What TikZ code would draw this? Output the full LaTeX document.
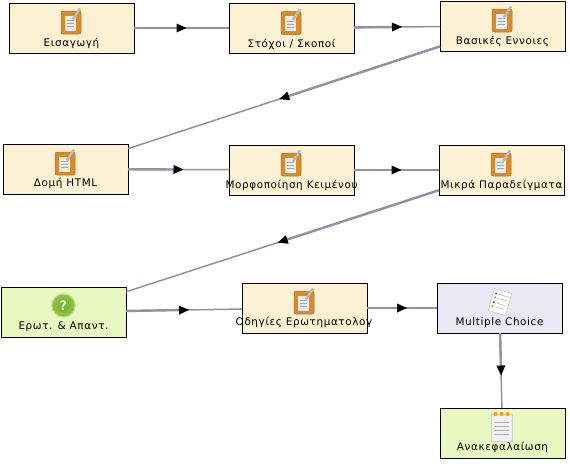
\documentclass[tikz,border=0pt]{standalone}
\usepackage{fontspec}
\setmainfont{DejaVu Sans}[LetterSpace=6]
\usetikzlibrary{arrows.meta,decorations.markings}
\definecolor{creamfill}{HTML}{FDF1D4}
\definecolor{limefill}{HTML}{E8F8C0}
\definecolor{lavenderfill}{HTML}{E9E9F6}
\definecolor{flowgray}{HTML}{9090A8}
\definecolor{padorange}{HTML}{D98A2B}
\definecolor{ballgreen}{HTML}{8CC63F}
\definecolor{balllight}{HTML}{C8E49A}

\tikzset{
    stepbox/.style={draw=black, line width=1pt, minimum width=125pt, minimum height=50pt, inner sep=0pt, outer sep=0pt},
    caption/.style={font=\fontsize{10.4}{12}\selectfont, inner sep=0pt, text=black},
    flow/.style={draw=flowgray, line width=1.5pt, postaction={decorate}, decoration={markings,
        mark=at position 0.5 with {
            \draw[flowgray, line width=2.4pt] (0,0) -- (-0.5*\pgfdecoratedpathlength,0);
            \fill[black] (5,0) -- (-5,4.5) -- (-5,-4.5) -- cycle;
        }}},
    pics/notepad/.style={code={
        \draw[padorange!80!black, fill=padorange, rounded corners=2pt, line width=0.5pt] (-10,-11.5) rectangle (10,11.5);
        \fill[white!92!black] (-6,-7) rectangle (5,8);
        \foreach \y in {-2,1,4} { \draw[gray!70, line width=0.4pt] (-4,\y) -- (3,\y); }
        \draw[gray!55, line width=2.6pt] (2,-3) -- (9,-14);
    }},
    pics/quizball/.style={code={
        \fill[balllight] (0,0) circle (12.5);
        \shade[inner color=ballgreen!85!black, outer color=ballgreen] (0,0) circle (11);
        \node[font=\bfseries\fontsize{13}{13}\selectfont, text=white!85!green] (mark) at (0,0) {?};
    }},
    pics/choicelist/.style={code={
        \begin{scope}[rotate=-16]
            \draw[gray!50, fill=white, line width=0.5pt] (-9,-11.5) rectangle (9,11.5);
            \foreach \y/\c in {-7/blue!60, -3/violet!50, 2/green!60!black, 6/orange} {
                \fill[\c] (-6,\y) circle (1.2);
                \draw[gray!60, line width=0.5pt] (-3,\y) -- (6,\y);
            }
        \end{scope}
    }},
    pics/summarypage/.style={code={
        \draw[gray!35, fill=white!94!black, line width=0.5pt] (-10.5,-12) rectangle (10.5,15);
        \foreach \x in {-6,0,6} { \fill[orange!80!yellow] (\x,-12) circle (2); }
        \foreach \y in {-4,0,4,8} { \draw[gray!60, line width=0.5pt] (-7,\y) -- (7,\y); }
    }}
}

\begin{document}
\begin{tikzpicture}[x=1pt, y=-1pt]
    \useasboundingbox (0,0) rectangle (570,463);

    % Boxes
    \node[stepbox, fill=creamfill] (intro) at (71.5,28) {};
    \node[stepbox, fill=creamfill] (goals) at (291.5,28) {};
    \node[stepbox, fill=creamfill] (basics) at (502.5,26) {};
    \node[stepbox, fill=creamfill] (structure) at (65.5,169) {};
    \node[stepbox, fill=creamfill] (format) at (291.5,170) {};
    \node[stepbox, fill=creamfill] (samples) at (501.5,170) {};
    \node[stepbox, fill=limefill] (qa) at (63.5,312) {};
    \node[stepbox, fill=creamfill] (guide) at (304.5,308) {};
    \node[stepbox, fill=lavenderfill] (choice) at (499.5,308) {};
    \node[stepbox, fill=limefill] (recap) at (502.5,433) {};

    % Captions
    \node[caption] (introtext) at (71.5,43) {Εισαγωγή};
    \node[caption] (goalstext) at (291.5,44) {Στόχοι / Σκοποί};
    \node[caption] (basicstext) at (502.5,41.5) {Βασικές Εννοιες};
    \node[caption] (structuretext) at (65.5,183.5) {Δομή HTML};
    \node[caption] (formattext) at (291.5,185) {Μορφοποίηση Κειμένου};
    \node[caption] (samplestext) at (501.5,185) {Μικρά Παραδείγματα};
    \node[caption] (qatext) at (63.5,327) {Ερωτ. \& Απαντ.};
    \node[caption] (guidetext) at (304,322.5) {Οδηγίες Ερωτηματολογ};
    \node[caption] (choicetext) at (499.5,322.5) {Multiple Choice};
    \node[caption] (recaptext) at (502.5,447.5) {Ανακεφαλαίωση};

    % Icons
    \pic at (71,22.5) {notepad};
    \pic at (291,23) {notepad};
    \pic at (502,20.5) {notepad};
    \pic at (65,163.5) {notepad};
    \pic at (291,164.5) {notepad};
    \pic at (501,164.5) {notepad};
    \pic at (304,302.5) {notepad};
    \pic at (63.5,305.5) {quizball};
    \pic at (500,302) {choicelist};
    \pic at (501.5,426) {summarypage};

    % Connectors
    \draw[flow] (intro) -- (goals);
    \draw[flow] (goals) -- (basics);
    \draw[flow] (basics) -- (structure);
    \draw[flow] (structure) -- (format);
    \draw[flow] (format) -- (samples);
    \draw[flow] (samples) -- (qa);
    \draw[flow] (qa) -- (guide);
    \draw[flow] (guide) -- (choice);
    \draw[flow] (choice) -- (recap);
\end{tikzpicture}
\end{document}
